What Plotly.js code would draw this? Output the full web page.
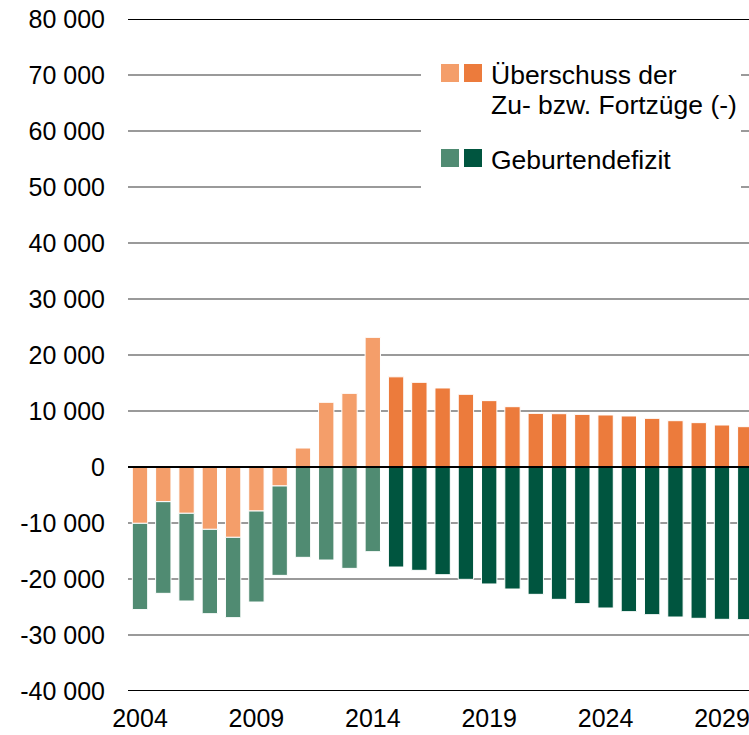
<!DOCTYPE html>
<html>
<head>
<meta charset="utf-8">
<script src="https://cdn.plot.ly/plotly-3.0.1.min.js"></script>
<style>
html,body{margin:0;padding:0;overflow:hidden;background:#fff;}
#chart{width:749px;height:735px;}
</style>
</head>
<body>
<div id="chart"></div>
<script>
// ---- data ----
const years = [2004,2005,2006,2007,2008,2009,2010,2011,2012,2013,2014,2015,2016,2017,2018,2019,2020,2021,2022,2023,2024,2025,2026,2027,2028,2029,2030];
const migration = [-10060,-6190,-8270,-11130,-12560,-7860,-3390,3390,11550,13150,23150,16100,15120,14110,12980,11850,10770,9580,9520,9400,9290,9110,8690,8270,7920,7500,7200];
const birthDeficit = [-15400,-16370,-15660,-15060,-14340,-16250,-15960,-16130,-16610,-18100,-15120,-17860,-18450,-19230,-20060,-20890,-21790,-22740,-23630,-24400,-25180,-25830,-26370,-26790,-27020,-27200,-27260];
const xTickVals = [2004,2009,2014,2019,2024,2029];
const yTickVals = [-40000,-30000,-20000,-10000,0,10000,20000,30000,40000,50000,60000,70000,80000];
const yTickText = ["-40 000","-30 000","-20 000","-10 000","0","10 000","20 000","30 000","40 000","50 000","60 000","70 000","80 000"];
const legendLine1 = "Überschuss der";
const legendLine2 = "Zu- bzw. Fortzüge (-)";
const legendGreen = "Geburtendefizit";
const lastObservedYear = 2014;

// ---- style ----
const C_OR_L = "#F49E6A", C_OR_D = "#EC7B3C", C_GR_L = "#508B72", C_GR_D = "#00553F";
const FONT = "Liberation Sans, Arial, sans-serif";
const W = 749, H = 735, ML = 128, MT = 19, MB = 44;
const PW = W - ML, PH = H - MT - MB;
const px = p => (p - ML) / PW;          // pixel x -> paper
const py = p => (H - MB - p) / PH;      // pixel y -> paper

const orColors = years.map(y => y <= lastObservedYear ? C_OR_L : C_OR_D);
const grColors = years.map(y => y <= lastObservedYear ? C_GR_L : C_GR_D);

const traces = [
  {type:"bar", x:years, y:migration, width:0.66, marker:{color:orColors, line:{color:"#fff", width:1}}, hoverinfo:"skip"},
  {type:"bar", x:years, y:birthDeficit, width:0.66, marker:{color:grColors, line:{color:"#fff", width:1}}, hoverinfo:"skip"}
];

function rect(x0,x1,y0,y1,color){
  return {type:"rect", xref:"paper", yref:"paper", x0:px(x0), x1:px(x1), y0:py(y1), y1:py(y0),
          fillcolor:color, line:{width:0}, layer:"above"};
}
function hline(v){
  return {type:"line", xref:"paper", yref:"y", x0:0, x1:1, y0:v, y1:v, line:{color:"#000", width:2}, layer:"above"};
}

const shapes = [
  hline(0), hline(80000), hline(-40000),
  rect(421,741,40,195,"#fff"),
  rect(441,459,64,82,C_OR_L), rect(464,482,64,82,C_OR_D),
  rect(441,459,149,167,C_GR_L), rect(464,482,149,167,C_GR_D)
];

function ann(text, xp, yp){
  return {text:text, xref:"paper", yref:"paper", x:px(xp), y:py(yp), xanchor:"left", yanchor:"middle",
          showarrow:false, font:{family:FONT, size:26.5, color:"#000"}};
}
const annotations = [ann(legendLine1,489,75), ann(legendLine2,489,104.5), ann(legendGreen,489,160.5)];

const r0 = 2004 - 12/23.28;
const layout = {
  width:W, height:H, margin:{l:ML, r:0, t:MT, b:MB, pad:0},
  paper_bgcolor:"#fff", plot_bgcolor:"#fff",
  barmode:"relative", bargap:0.3, showlegend:false,
  font:{family:FONT, size:25, color:"#000"},
  xaxis:{range:[r0, r0 + PW/23.28], tickvals:xTickVals, ticktext:xTickVals.map(String), showgrid:false, zeroline:false,
         showline:false, ticks:"", ticklabelstandoff:10, ticklabeloverflow:"allow",
         tickfont:{family:FONT, size:25, color:"#000"}, fixedrange:true},
  yaxis:{range:[-40000,80000], tickvals:yTickVals, ticktext:yTickText, showgrid:true, gridcolor:"#9a9a9a", gridwidth:1.5,
         zeroline:false, showline:false, ticks:"", ticklabelstandoff:22, tickfont:{family:FONT, size:25, color:"#000"}, fixedrange:true},
  shapes:shapes, annotations:annotations
};

Plotly.newPlot("chart", traces, layout, {staticPlot:true, displayModeBar:false});
</script>
</body>
</html>
